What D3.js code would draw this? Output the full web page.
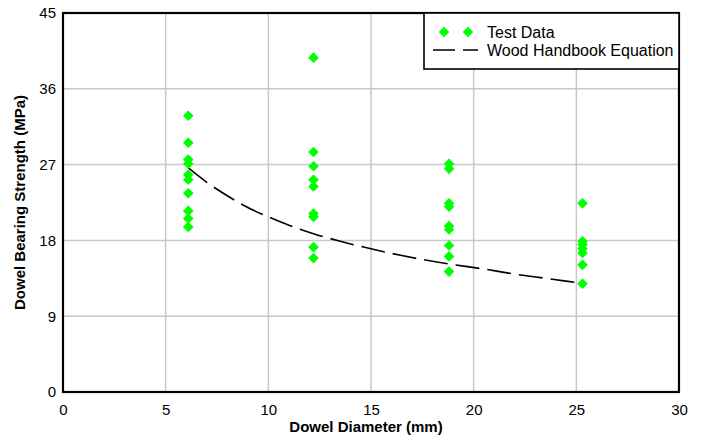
<!DOCTYPE html>
<html><head><meta charset="utf-8">
<script src="https://cdn.jsdelivr.net/npm/d3@7"></script>
<style>body{margin:0;background:#fff}svg{display:block}text{font-family:"Liberation Sans",Arial,sans-serif}</style>
</head><body><svg id="c" width="704" height="438"></svg>
<script>
const diam1 = 6.1, diam2 = 12.2, diam3 = 18.8, diam4 = 25.3;
const group1 = [32.8, 29.6, 27.6, 27.1, 25.8, 25.2, 23.6, 21.5, 20.6, 19.6];
const group2 = [39.7, 28.5, 26.8, 25.2, 24.4, 21.2, 20.8, 17.2, 15.9];
const group3 = [27.1, 26.5, 22.4, 22.0, 19.7, 19.3, 17.4, 16.1, 14.3];
const group4 = [22.4, 17.9, 17.5, 17.0, 16.5, 15.1, 12.85];
const eqX = [6.1, 7, 8, 9, 10, 11, 12.2, 13.5, 15, 16.5, 18.8, 20.5, 22, 23.5, 25.3];
const eqY = [26.6, 24.9, 23.3, 21.9, 20.8, 19.8, 18.8, 17.9, 17.0, 16.2, 15.2, 14.6, 14.0, 13.5, 12.9];
const xTicks = [0, 5, 10, 15, 20, 25, 30];
const yTicks = [0, 9, 18, 27, 36, 45];
const legendLabels = ["Test Data", "Wood Handbook Equation"];

const points = [];
[[diam1, group1], [diam2, group2], [diam3, group3], [diam4, group4]].forEach(([d, vals]) => vals.forEach(v => points.push({d, v})));
const eq = eqX.map((d, i) => ({d, v: eqY[i]}));

const L = 63, R = 679, T = 13, B = 392;
const svg = d3.select("#c");
const x = d3.scaleLinear().domain([0, 30]).range([L, R]);
const y = d3.scaleLinear().domain([0, 45]).range([B, T]);

// grid
svg.append("g").selectAll("line").data(xTicks.slice(1, -1)).join("line")
  .attr("x1", d => x(d)).attr("x2", d => x(d)).attr("y1", T).attr("y2", B)
  .attr("stroke", "#c8c8c8").attr("stroke-width", 1.5);
svg.append("g").selectAll("line").data(yTicks.slice(1, -1)).join("line")
  .attr("x1", L).attr("x2", R).attr("y1", d => y(d)).attr("y2", d => y(d))
  .attr("stroke", "#c8c8c8").attr("stroke-width", 1.5);

// axes labels via d3 axes
const xa = svg.append("g").attr("transform", `translate(0,${B})`)
  .call(d3.axisBottom(x).tickValues(xTicks).tickSize(0).tickPadding(12));
xa.select(".domain").remove();
xa.selectAll("text").attr("font-size", 15).attr("fill", "#000").style("font-family", '"Liberation Sans",Arial,sans-serif');
const ya = svg.append("g").attr("transform", `translate(${L},0)`)
  .call(d3.axisLeft(y).tickValues(yTicks).tickSize(0).tickPadding(7));
ya.select(".domain").remove();
ya.selectAll("text").attr("font-size", 15).attr("fill", "#000").style("font-family", '"Liberation Sans",Arial,sans-serif');

// equation line
svg.append("path").datum(eq)
  .attr("d", d3.line().x(d => x(d.d)).y(d => y(d.v)).curve(d3.curveMonotoneX))
  .attr("fill", "none").attr("stroke", "#000").attr("stroke-width", 1.6)
  .attr("stroke-dasharray", "24,8");

// points
const diamond = d3.symbol().type(d3.symbolDiamond2).size(72);
svg.append("g").selectAll("path").data(points).join("path")
  .attr("d", diamond).attr("transform", d => `translate(${x(d.d)},${y(d.v)})`)
  .attr("fill", "#00ff00");

// frame
svg.append("rect").attr("x", L).attr("y", T).attr("width", R - L).attr("height", B - T)
  .attr("fill", "none").attr("stroke", "#000").attr("stroke-width", 2.2);

// legend
const lg = svg.append("g");
lg.append("rect").attr("x", 424).attr("y", T).attr("width", R - 424).attr("height", 56)
  .attr("fill", "#fff").attr("stroke", "#000").attr("stroke-width", 1.6);
[444, 468].forEach(cx => lg.append("path").attr("d", diamond).attr("transform", `translate(${cx},32)`).attr("fill", "#00ff00"));
lg.append("line").attr("x1", 433).attr("x2", 478).attr("y1", 50).attr("y2", 50)
  .attr("stroke", "#000").attr("stroke-width", 1.6).attr("stroke-dasharray", "22,8");
lg.selectAll("text").data(legendLabels).join("text")
  .attr("x", 487).attr("y", (d, i) => 37.5 + i * 18.5).attr("font-size", 16).text(d => d);

// titles
svg.append("text").attr("x", 366).attr("y", 432).attr("text-anchor", "middle")
  .attr("font-size", 15).attr("font-weight", "bold").text("Dowel Diameter (mm)");
svg.append("text").attr("transform", `translate(25,${(T + B) / 2}) rotate(-90)`).attr("text-anchor", "middle")
  .attr("font-size", 15).attr("font-weight", "bold").text("Dowel Bearing Strength (MPa)");
</script></body></html>
